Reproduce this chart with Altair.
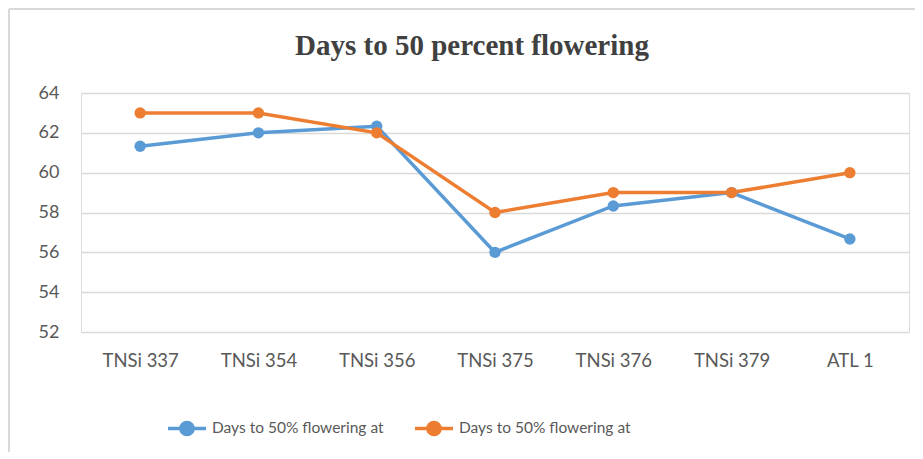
import altair as alt
import pandas as pd

categories = ["TNSi 337", "TNSi 354", "TNSi 356", "TNSi 375", "TNSi 376", "TNSi 379", "ATL 1"]
series_a = [61.33, 62.0, 62.33, 56.0, 58.33, 59.0, 56.67]
series_b = [63, 63, 62, 58, 59, 59, 60]
series_keys = ["A", "B"]
series_label = "Days to 50% flowering at"
chart_title = "Days to 50 percent flowering"
colors = ["#5B9BD5", "#ED7D31"]
y_ticks = [52, 54, 56, 58, 60, 62, 64]

rows = []
for key, vals in zip(series_keys, [series_a, series_b]):
    for c, v in zip(categories, vals):
        rows.append({"cat": c, "val": v, "series": key})
df = pd.DataFrame(rows)

sym = "M-1,0H1M-0.32,0A0.32,0.32 0 1,1 0.32,0A0.32,0.32 0 1,1 -0.32,0Z"

base = alt.Chart(df).encode(
    x=alt.X("cat:N", sort=categories, scale=alt.Scale(type="point", padding=0.5),
            axis=alt.Axis(title=None, labelAngle=0, domain=False, ticks=False, grid=False,
                          labelPadding=19, labelFont="Lato", labelFontSize=18.5, labelColor="#595959")),
    y=alt.Y("val:Q", scale=alt.Scale(domain=[52, 64], nice=False, zero=False),
            axis=alt.Axis(title=None, values=y_ticks, domain=False, ticks=False, grid=True,
                          gridColor="#d9d9d9", gridWidth=1.3, labelPadding=22,
                          labelFont="Lato", labelFontSize=18, labelColor="#595959")),
    color=alt.Color("series:N", scale=alt.Scale(domain=series_keys, range=colors),
                    legend=alt.Legend(title=None, orient="none", legendX=85, legendY=314,
                                      direction="horizontal", symbolType=sym, symbolSize=1444,
                                      symbolStrokeWidth=3.5, labelOffset=4, columnPadding=24,
                                      labelLimit=400,
                                      labelFont="Lato", labelFontSize=15.5, labelColor="#595959",
                                      labelExpr="'" + series_label + "'")),
    detail="series:N",
)

lines = base.mark_line(strokeWidth=3.5, point=alt.OverlayMarkDef(filled=True, size=130, opacity=1))

one = pd.DataFrame({"k": [0]})
frame_left = alt.Chart(one).mark_rule(color="#d9d9d9", strokeWidth=2).encode(
    x=alt.value(-72), y=alt.value(-84), y2=alt.value(400))
frame_top = alt.Chart(one).mark_rule(color="#d9d9d9", strokeWidth=2).encode(
    x=alt.value(-72), x2=alt.value(840), y=alt.value(-84))
title_text = alt.Chart(one).mark_text(
    text=chart_title, font="Liberation Serif", fontSize=29, fontWeight="bold",
    color="#404040", align="center", baseline="middle").encode(
    x=alt.value(391), y=alt.value(-47))

chart = alt.layer(frame_left, frame_top, title_text, lines).properties(
    width=828, height=239,
    autosize=alt.AutoSizeParams(type="none"),
    padding={"left": 73, "top": 85, "right": 6, "bottom": 120},
).configure_view(stroke=None).configure(background="white")

chart.save("out.html", embed_options={"renderer": "svg", "actions": False})
